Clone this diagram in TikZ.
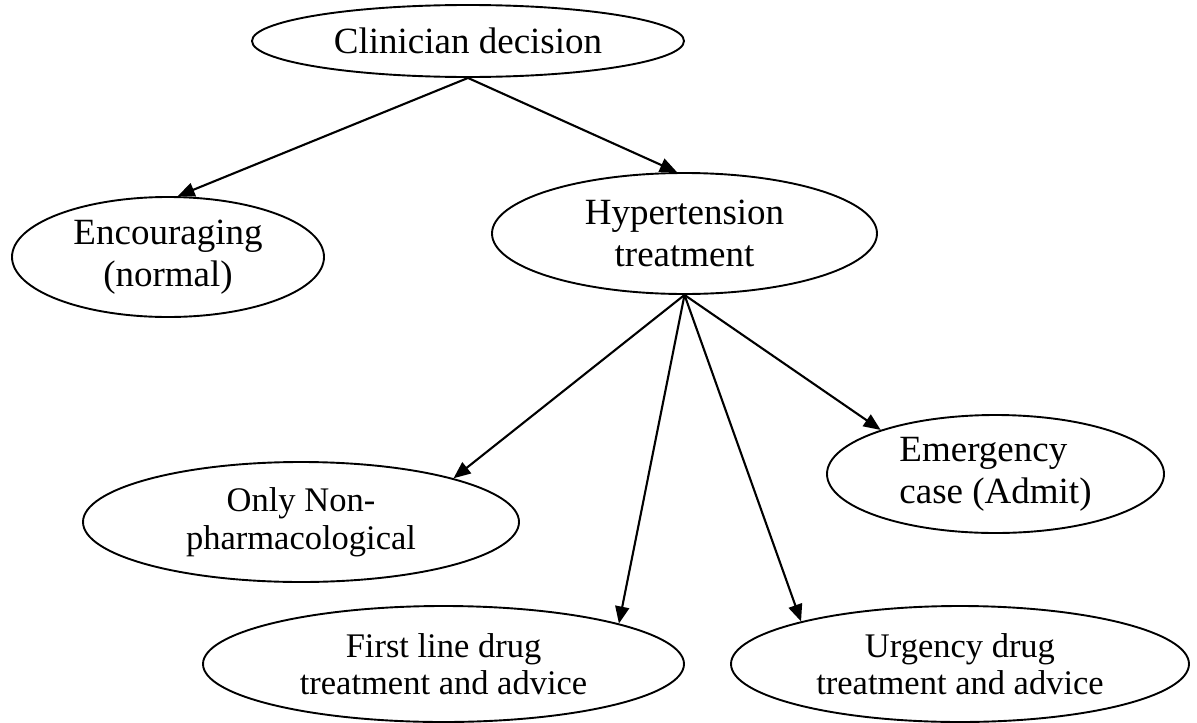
\documentclass[tikz,border=0pt]{standalone}
\usepackage{fontspec}
\setmainfont{Liberation Serif}
\usetikzlibrary{shapes.geometric,arrows.meta}
\tikzset{
  ell/.style={ellipse, draw, line width=1.9pt, inner sep=0pt, align=center},
  bigtxt/.style={font=\fontsize{37}{42}\selectfont},
  smalltxt/.style={font=\fontsize{34.5}{37.5}\selectfont},
  conn/.style={line width=2.1pt, -{Triangle[length=17pt,width=14pt]}}
}
\begin{document}
\begin{tikzpicture}[x=1pt,y=-1pt]
\useasboundingbox (0,0) rectangle (1197,723);
\node[ell,bigtxt,minimum width=432pt,minimum height=72pt] (clin) at (468,41) {Clinician decision};
\node[ell,bigtxt,minimum width=312pt,minimum height=120pt] (enc) at (168,257) {Encouraging\\(normal)};
\node[ell,bigtxt,minimum width=385pt,minimum height=121pt] (hyp) at (684.5,233.5) {Hypertension\\treatment};
\node[ell,smalltxt,minimum width=436pt,minimum height=120pt] (non) at (301,522) {Only Non-\\pharmacological};
\node[ell,bigtxt,align=left,minimum width=337pt,minimum height=118pt] (em) at (995.5,474) {Emergency\\case (Admit)};
\node[ell,smalltxt,minimum width=481pt,minimum height=116pt] (fl) at (443.5,664) {First line drug\\treatment and advice};
\node[ell,smalltxt,minimum width=458pt,minimum height=116pt] (urg) at (960,664) {Urgency drug\\treatment and advice};
\draw[conn] (clin.south) -- (enc.81.5);
\draw[conn] (clin.south) -- (hyp.97);
\draw[conn] (hyp.south) -- (non.16.3);
\draw[conn] (hyp.south) -- (fl.13.8);
\draw[conn] (hyp.south) -- (urg.165.6);
\draw[conn] (hyp.south) -- (em.159.9);
\end{tikzpicture}
\end{document}
